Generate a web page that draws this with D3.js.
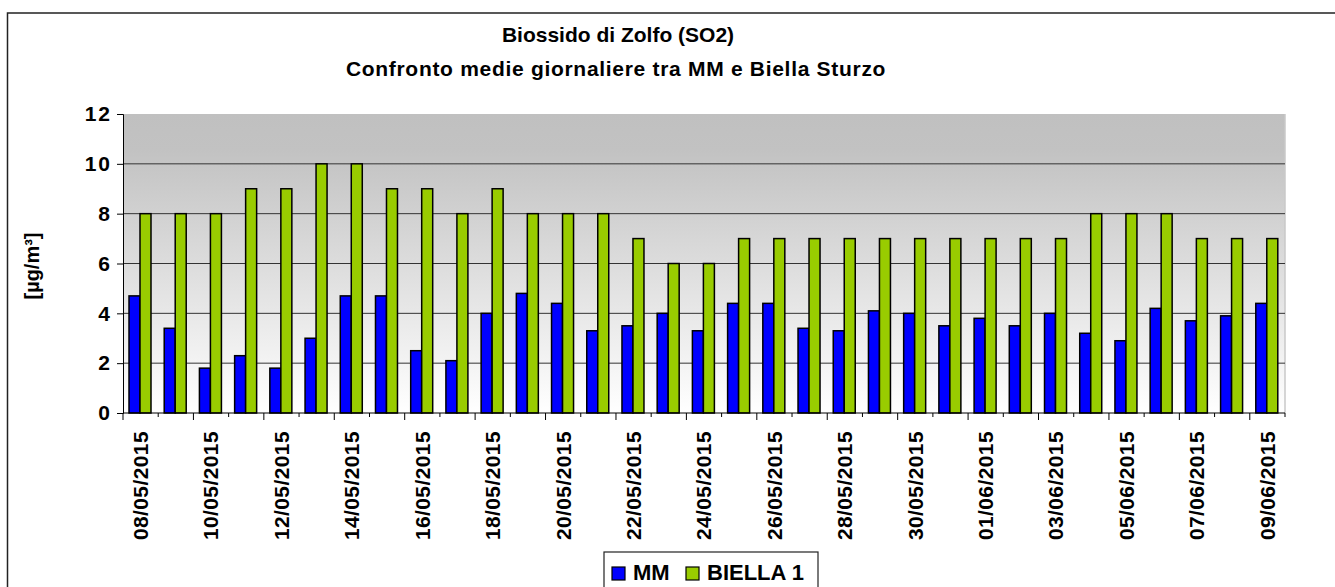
<!DOCTYPE html>
<html>
<head>
<meta charset="utf-8">
<script src="https://cdn.jsdelivr.net/npm/d3@7"></script>
<style>
  body { margin: 0; background: #fff; }
  svg { display: block; font-family: "Liberation Sans", Arial, sans-serif; font-weight: bold; }
</style>
</head>
<body>
<div id="chart"></div>
<script>
// Days on the x axis
const dates = [
    "08/05/2015", "09/05/2015", "10/05/2015", "11/05/2015", "12/05/2015", "13/05/2015",
    "14/05/2015", "15/05/2015", "16/05/2015", "17/05/2015", "18/05/2015", "19/05/2015",
    "20/05/2015", "21/05/2015", "22/05/2015", "23/05/2015", "24/05/2015", "25/05/2015",
    "26/05/2015", "27/05/2015", "28/05/2015", "29/05/2015", "30/05/2015", "31/05/2015",
    "01/06/2015", "02/06/2015", "03/06/2015", "04/06/2015", "05/06/2015", "06/06/2015",
    "07/06/2015", "08/06/2015", "09/06/2015"
];

// Daily means (µg/m³)
const mmValues = [4.7, 3.4, 1.8, 2.3, 1.8, 3.0, 4.7, 4.7, 2.5, 2.1, 4.0, 4.8,
    4.4, 3.3, 3.5, 4.0, 3.3, 4.4, 4.4, 3.4, 3.3, 4.1, 4.0,
    3.5, 3.8, 3.5, 4.0, 3.2, 2.9, 4.2, 3.7, 3.9, 4.4];
const biellaValues = [8, 8, 8, 9, 9, 10, 10, 9, 9, 8, 9, 8,
    8, 8, 7, 6, 6, 7, 7, 7, 7, 7, 7,
    7, 7, 7, 7, 8, 8, 8, 7, 7, 7];

const seriesNames = ["MM", "BIELLA 1"];
const seriesColors = ["#0000ff", "#99cc00"];
const yTicks = [0, 2, 4, 6, 8, 10, 12];

const width = 1335, height = 587;
const plot = { left: 123, right: 1285, top: 114, bottom: 413 };

let svg = d3.select("#chart").append("svg")
    .attr("width", width)
    .attr("height", height);

// outer frame
svg.append("rect")
    .attr("x", 7.5).attr("y", 13)
    .attr("width", 1340).attr("height", 600)
    .attr("fill", "none")
    .attr("stroke", "#222")
    .attr("stroke-width", 1.5);

// background gradient of the plot area
let grad = svg.append("defs").append("linearGradient")
    .attr("id", "bg").attr("x1", 0).attr("y1", 0).attr("x2", 0).attr("y2", 1);
grad.append("stop").attr("offset", "0%").attr("stop-color", "#c0c0c0");
grad.append("stop").attr("offset", "12%").attr("stop-color", "#c2c2c2");
grad.append("stop").attr("offset", "100%").attr("stop-color", "#ffffff");

let x = d3.scaleBand().domain(dates).range([plot.left, plot.right]).padding(0);
let xs = d3.scaleBand().domain(seriesNames).range([6, 28]);
let y = d3.scaleLinear().domain([0, 12]).range([plot.bottom, plot.top]);

svg.append("rect")
    .attr("x", plot.left).attr("y", plot.top)
    .attr("width", plot.right - plot.left).attr("height", plot.bottom - plot.top)
    .attr("fill", "url(#bg)")
    .attr("stroke", "none");

// right border of plot area
svg.append("line")
    .attr("x1", plot.right).attr("x2", plot.right)
    .attr("y1", plot.top).attr("y2", plot.bottom)
    .attr("stroke", "#c8c8c8").attr("stroke-width", 1.5);

// gridlines
svg.append("g").selectAll("line")
    .data(yTicks.filter(d => d > 0 && d < 12))
    .enter().append("line")
    .attr("x1", plot.left).attr("x2", plot.right)
    .attr("y1", d => y(d)).attr("y2", d => y(d))
    .attr("stroke", "#333").attr("stroke-width", 1);

// bars
const rows = dates.map((d, i) => ({ date: d, values: [mmValues[i], biellaValues[i]] }));
let groups = svg.append("g").selectAll("g")
    .data(rows)
    .enter().append("g")
    .attr("transform", d => "translate(" + x(d.date) + ",0)");
groups.selectAll("rect")
    .data(d => d.values.map((v, j) => ({ key: seriesNames[j], value: v, color: seriesColors[j] })))
    .enter().append("rect")
    .attr("x", d => xs(d.key))
    .attr("width", xs.bandwidth())
    .attr("y", d => y(d.value))
    .attr("height", d => y(0) - y(d.value))
    .attr("fill", d => d.color)
    .attr("stroke", "#000")
    .attr("stroke-width", 1.5);

// Y axis
let yAxis = svg.append("g")
    .attr("transform", "translate(" + plot.left + ",0)")
    .call(d3.axisLeft(y).tickValues(yTicks).tickSize(6).tickPadding(5));
yAxis.select(".domain").attr("stroke", "#000");
yAxis.selectAll(".tick line").attr("stroke", "#000");
yAxis.selectAll("text")
    .attr("fill", "#000")
    .style("font-size", "21px")
    .style("letter-spacing", "2px")
    .style("font-weight", "bold")
    .style("font-family", "'Liberation Sans', Arial, sans-serif");

// X axis line and tick marks at category boundaries
svg.append("line")
    .attr("x1", plot.left).attr("x2", plot.right)
    .attr("y1", plot.bottom).attr("y2", plot.bottom)
    .attr("stroke", "#000").attr("stroke-width", 1);
const boundaries = dates.map((d, i) => i).concat([dates.length]);
svg.append("g").selectAll("line")
    .data(boundaries)
    .enter().append("line")
    .attr("x1", i => i < dates.length ? x(dates[i]) : plot.right)
    .attr("x2", i => i < dates.length ? x(dates[i]) : plot.right)
    .attr("y1", plot.bottom)
    .attr("y2", i => plot.bottom + (i % 2 === 0 ? 7 : 4))
    .attr("stroke", "#000");

// X labels, every other day
svg.append("g").selectAll("text")
    .data(dates.filter((d, i) => i % 2 === 0))
    .enter().append("text")
    .attr("transform", d => "translate(" + (x(d) + x.bandwidth() / 2) + "," + (plot.bottom + 18) + ")rotate(-90)")
    .attr("dy", "0.35em")
    .style("text-anchor", "end")
    .style("font-size", "21px")
    .style("letter-spacing", "0.4px")
    .text(d => d);

// Y axis title
svg.append("text")
    .attr("transform", "translate(32,266)rotate(-90)")
    .attr("dy", "0.35em")
    .style("text-anchor", "middle")
    .style("font-size", "20px")
    .text("[µg/m³]");

// Title
svg.append("text")
    .attr("x", 618).attr("y", 42)
    .style("text-anchor", "middle")
    .style("font-size", "21px")
    .text("Biossido di Zolfo (SO2)");
svg.append("text")
    .attr("x", 616).attr("y", 76)
    .style("text-anchor", "middle")
    .style("font-size", "21px")
    .style("letter-spacing", "0.7px")
    .text("Confronto medie giornaliere tra MM e Biella Sturzo");

// Legend
let legend = svg.append("g").attr("transform", "translate(604,552)");
legend.append("rect")
    .attr("x", 0).attr("y", 0).attr("width", 214).attr("height", 50)
    .attr("fill", "#fff").attr("stroke", "#222").attr("stroke-width", 1.2);
const legendX = [8, 82];
seriesNames.forEach((name, i) => {
    legend.append("rect")
        .attr("x", legendX[i]).attr("y", 15)
        .attr("width", 13).attr("height", 13)
        .attr("fill", seriesColors[i])
        .attr("stroke", "#000").attr("stroke-width", 1.2);
    legend.append("text")
        .attr("x", legendX[i] + 21).attr("y", 28)
        .style("font-size", "22px")
        .text(name);
});
</script>
</body>
</html>
